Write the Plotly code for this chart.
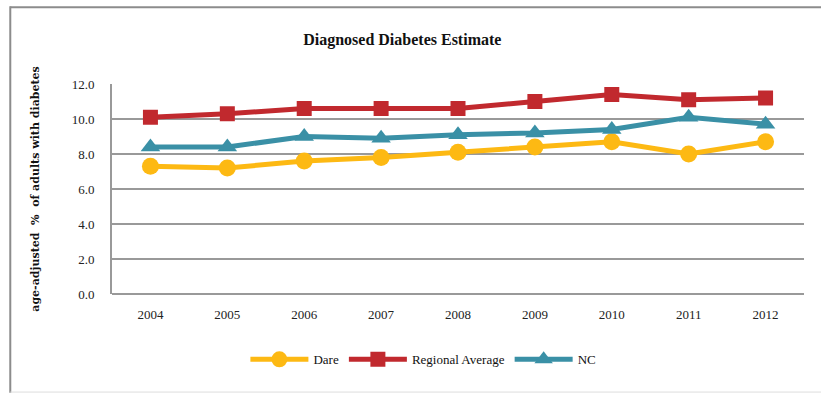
import plotly.graph_objects as go

# Diagnosed diabetes, age-adjusted % of adults
years = ["2004", "2005", "2006", "2007", "2008", "2009", "2010", "2011", "2012"]
dare = [7.3, 7.2, 7.6, 7.8, 8.1, 8.4, 8.7, 8.0, 8.7]
regional_average = [10.1, 10.3, 10.6, 10.6, 10.6, 11.0, 11.4, 11.1, 11.2]
nc = [8.4, 8.4, 9.0, 8.9, 9.1, 9.2, 9.4, 10.1, 9.7]

y_ticks = [0, 2, 4, 6, 8, 10, 12]

series = [
    ("Dare", dare, "#FDB913", "circle", 17),
    ("Regional Average", regional_average, "#C1292E", "square", 15),
    ("NC", nc, "#3A90A6", "triangle-up", 17),
]

fig = go.Figure()
for name, values, color, symbol, size in series:
    fig.add_trace(go.Scatter(
        x=years, y=values, name=name, mode="lines+markers",
        line=dict(color=color, width=5),
        marker=dict(symbol=symbol, size=size, color=color),
    ))

serif = "Liberation Serif, Times New Roman, serif"

fig.update_layout(
    width=821, height=394,
    margin=dict(l=112, r=17, t=84, b=100),
    paper_bgcolor="white", plot_bgcolor="white",
    font=dict(family=serif, size=12, color="#222"),
    title=dict(
        text="<b>Diagnosed Diabetes Estimate</b>",
        x=0.49, xanchor="center", y=0.9, yanchor="middle",
        font=dict(family=serif, size=16, color="#111"),
    ),
    xaxis=dict(
        type="category", showgrid=False, showline=False, ticks="",
        tickfont=dict(family=serif, size=13, color="#222"),
        ticklabelstandoff=11,
        range=[-0.5, 8.5], zeroline=False,
    ),
    yaxis=dict(
        range=[0, 12], tickvals=y_ticks, tickformat=".1f",
        showgrid=True, gridcolor="#999999", gridwidth=2,
        showline=True, linecolor="#999999", linewidth=2,
        zeroline=True, zerolinecolor="#999999", zerolinewidth=2,
        ticks="", ticklen=0, ticklabelstandoff=13,
        tickfont=dict(family=serif, size=13, color="#222"),
        title=dict(
            text="<b>age-adjusted  %  of adults with diabetes</b>",
            font=dict(family="DejaVu Serif, serif", size=11, color="#111"),
            standoff=30,
        ),
    ),
    legend=dict(
        orientation="h", x=0.45, xanchor="center", y=-0.24, yanchor="top",
        font=dict(family=serif, size=13, color="#111"),
        itemwidth=58, traceorder="normal",
    ),
    showlegend=True,
    shapes=[
        # outer frame of the chart
        dict(type="line", xref="paper", yref="paper",
             x0=-0.147, x1=1.05, y0=1.366, y1=1.366,
             line=dict(color="#8c8c8c", width=2)),
        dict(type="line", xref="paper", yref="paper",
             x0=-0.147, x1=-0.147, y0=1.37, y1=-0.47,
             line=dict(color="#8c8c8c", width=2)),
        dict(type="line", xref="paper", yref="paper",
             x0=-0.147, x1=1.05, y0=-0.467, y1=-0.467,
             line=dict(color="#dddddd", width=1)),
    ],
)

fig.write_html("out.html")
